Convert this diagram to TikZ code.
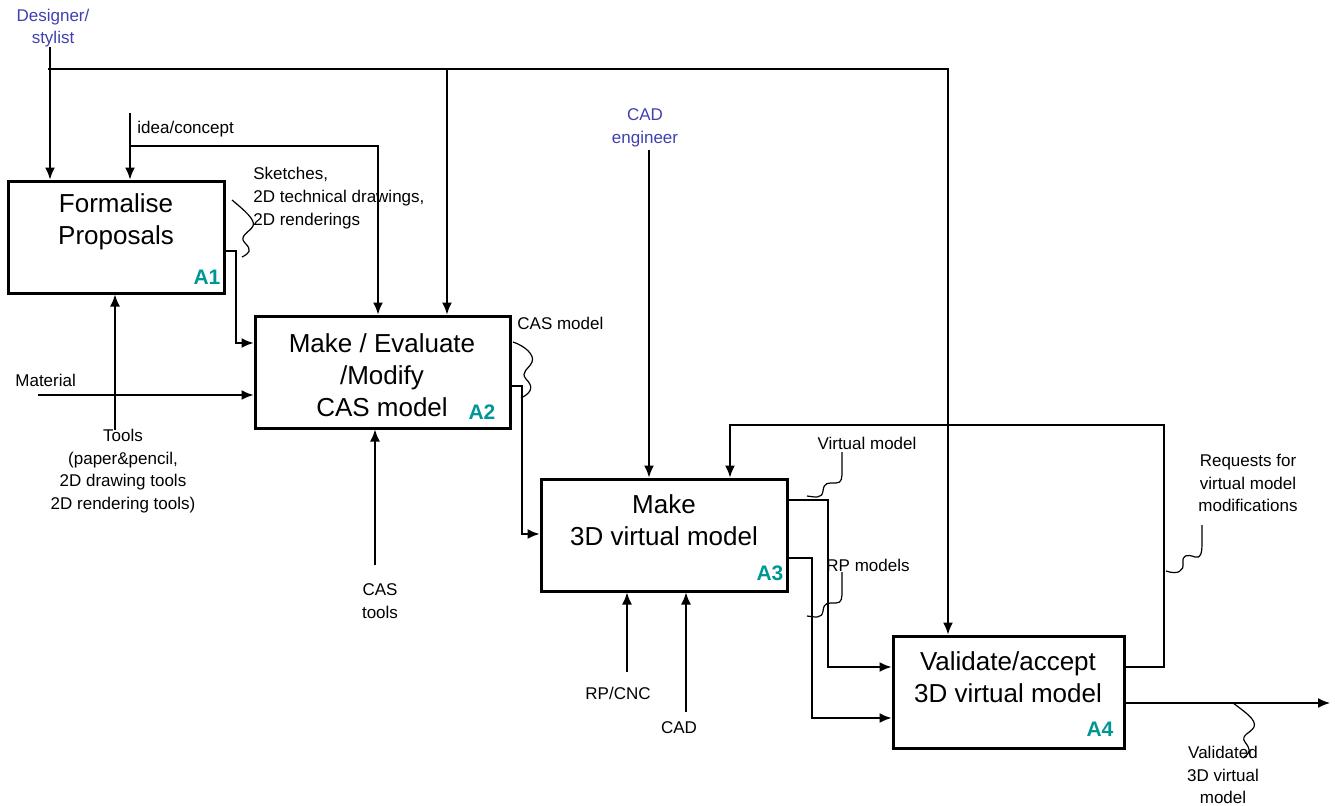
\documentclass[tikz,border=0pt]{standalone}
\usepackage{fontspec}
\setmainfont{Liberation Sans}
\usetikzlibrary{arrows.meta}
\definecolor{actor}{RGB}{64,64,176}
\definecolor{boxno}{RGB}{0,150,150}

\begin{document}
\begin{tikzpicture}[>={Latex[length=6pt,width=5pt]},x=0.5pt,y=-0.5pt,
  every node/.style={inner sep=0pt,font=\fontsize{8.5}{11.3}\selectfont},
  act/.style={draw,line width=1.5pt,minimum height=56pt},
  acttext/.style={align=center,font=\fontsize{13}{16}\selectfont},
  actno/.style={text=boxno,font=\bfseries\fontsize{10.5}{12}\selectfont},
  flow/.style={->,line width=0.8pt},
  squig/.style={line width=0.6pt}]
\useasboundingbox (0,0) rectangle (1335,805);

% Activity boxes
\node[act,minimum width=108pt] (A1) at (116,237) {};
\node[act,minimum width=127.5pt] (A2) at (382.5,372) {};
\node[act,minimum width=123pt] (A3) at (664,535) {};
\node[act,minimum width=115.5pt] (A4) at (1008.5,692) {};
\node[acttext] (A1t) at (116,222) {Formalise\\Proposals};
\node[acttext] (A2t) at (382,375) {Make / Evaluate\\/Modify\\CAS model};
\node[acttext] (A3t) at (664,520) {Make\\3D virtual model};
\node[acttext] (A4t) at (1008,677) {Validate/accept\\3D virtual model};
\node[actno] (A1n) at (207,277) {A1};
\node[actno] (A2n) at (482,412) {A2};
\node[actno] (A3n) at (770,573) {A3};
\node[actno] (A4n) at (1100,729) {A4};

% Mechanisms (actors)
\node[text=actor,align=center] (designer) at (53,28) {Designer/\\stylist};
\node[text=actor,align=center] (engineer) at (645,128) {CAD\\engineer};
\coordinate (des) at (50,47);
\coordinate (desJ) at (48,69);
\coordinate (casIn) at (447,69);
\coordinate (valIn) at (948,0);
\coordinate (eng) at (649,150);
\draw[flow] (des) -- (des |- A1.north);
\draw[flow] (desJ) -| (valIn |- A4.north);
\draw[flow] (casIn) -- (casIn |- A2.north);
\draw[flow] (eng) -- (eng |- A3.north);

% Inputs
\node[anchor=west] (ideaL) at (137,129) {idea/concept};
\coordinate (idea) at (130,113);
\coordinate (ideaJ) at (130,146);
\coordinate (ideaR) at (378,0);
\draw[flow] (idea) -- (idea |- A1.north);
\draw[flow] (ideaJ) -| (ideaR |- A2.north);
\node[anchor=west] (matL) at (15,380) {Material};
\coordinate (mat) at (38,395);
\draw[flow] (mat) -- (mat -| A2.west);

% Tools
\node[align=center] (toolsL) at (123,471) {Tools\\(paper\&pencil,\\2D drawing tools\\2D rendering tools)};
\node[align=center] (castoolsL) at (380,601) {CAS\\tools};
\node (rpcncL) at (618,693) {RP/CNC};
\node (cadL) at (679,728) {CAD};
\coordinate (tools) at (115,430);
\coordinate (castools) at (375,565);
\coordinate (rpcnc) at (627,672);
\coordinate (cad) at (686,712);
\draw[flow] (tools) -- (tools |- A1.south);
\draw[flow] (castools) -- (castools |- A2.south);
\draw[flow] (rpcnc) -- (rpcnc |- A3.south);
\draw[flow] (cad) -- (cad |- A3.south);

% A1 -> A2
\node[anchor=west,align=left] (skL) at (253,198) {Sketches,\\2D technical drawings,\\2D renderings};
\coordinate (o1) at (236,251);
\coordinate (sk) at (236,343);
\draw[flow] (A1.east |- o1) -- (o1) -- (sk) -- (sk -| A2.west);
\draw[squig] (232,200) .. controls (244,210) and (256,220) .. (253,226)
  .. controls (250,232) and (238,236) .. (245,243)
  .. controls (252,250) and (250,253) .. (242,257);

% A2 -> A3
\node[anchor=west] (cmL) at (517,323) {CAS model};
\coordinate (o2) at (522,386);
\coordinate (cm) at (522,534);
\draw[flow] (A2.east |- o2) -- (o2) -- (cm) -- (cm -| A3.west);
\draw[squig] (513,342) .. controls (525,346) and (535,355) .. (532,362)
  .. controls (529,369) and (520,372) .. (526,379)
  .. controls (533,386) and (533,392) .. (521,398);

% A3 -> A4
\node (vmL) at (867,443) {Virtual model};
\node (rpL) at (868,565) {RP models};
\coordinate (vm) at (828,500);
\coordinate (vmB) at (828,667);
\coordinate (rp) at (812,558);
\coordinate (rpB) at (812,718);
\draw[flow] (A3.east |- vm) -- (vm) -- (vmB) -- (vmB -| A4.west);
\draw[flow] (A3.east |- rp) -- (rp) -- (rpB) -- (rpB -| A4.west);
\draw[squig] (807,496) .. controls (815,497) and (822,499) .. (823,491)
  .. controls (824,482) and (828,483) .. (836,483)
  .. controls (842,483) and (842,478) .. (842,470) -- (842,452);
\draw[squig] (807,616) .. controls (815,617) and (822,619) .. (823,611)
  .. controls (824,602) and (828,603) .. (836,603)
  .. controls (842,603) and (842,598) .. (842,590) -- (842,572);

% Feedback A4 -> A3
\node[align=center] (reqL) at (1248,483) {Requests for\\virtual model\\modifications};
\coordinate (fb) at (1164,667);
\coordinate (fbT) at (1164,425);
\coordinate (fbL) at (730,425);
\draw[flow] (A4.east |- fb) -- (fb) -- (fbT) -- (fbL) -- (fbL |- A3.north);
\draw[squig] (1166,571) .. controls (1178,575) and (1184,571) .. (1183,563)
  .. controls (1182,555) and (1187,554) .. (1195,557)
  .. controls (1201,559) and (1202,552) .. (1202,545) -- (1202,525);

% Output
\node[align=center] (outL) at (1223,775) {Validated\\3D virtual\\model};
\coordinate (out) at (1330,703);
\draw[flow] (A4.east |- out) -- (out);
\draw[squig] (1233,703) .. controls (1245,712) and (1257,720) .. (1254,727)
  .. controls (1251,733) and (1240,735) .. (1245,742)
  .. controls (1250,749) and (1252,752) .. (1243,758);
\end{tikzpicture}
\end{document}
